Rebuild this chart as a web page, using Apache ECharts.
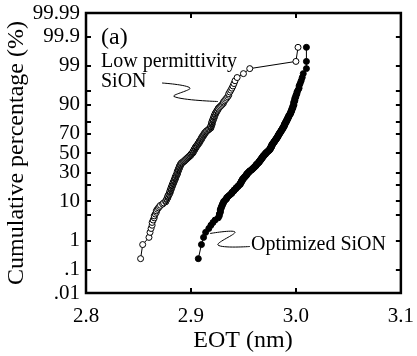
<!DOCTYPE html>
<html>
<head>
<meta charset="utf-8">
<script src="https://cdn.jsdelivr.net/npm/echarts@6.0.0/dist/echarts.min.js"></script>
<style>
  html, body { margin: 0; padding: 0; background: #fff; }
  #chart { width: 417px; height: 356px; }
</style>
</head>
<body>
<div id="chart"></div>
<script>
  // --- Data: sorted EOT values (nm), 200 devices per sample ---
  const lowPermEOT = [
    2.852, 2.854, 2.860, 2.861, 2.862, 2.863, 2.863, 2.864, 2.865, 2.865,
    2.866, 2.867, 2.867, 2.868, 2.869, 2.870, 2.871, 2.873, 2.874, 2.876,
    2.876, 2.877, 2.877, 2.878, 2.878, 2.878, 2.879, 2.879, 2.880, 2.880,
    2.880, 2.880, 2.881, 2.881, 2.881, 2.881, 2.882, 2.882, 2.882, 2.882,
    2.883, 2.883, 2.883, 2.883, 2.884, 2.884, 2.884, 2.884, 2.885, 2.885,
    2.885, 2.885, 2.885, 2.886, 2.886, 2.886, 2.886, 2.887, 2.887, 2.887,
    2.887, 2.887, 2.887, 2.888, 2.888, 2.888, 2.888, 2.888, 2.889, 2.889,
    2.889, 2.889, 2.889, 2.890, 2.890, 2.890, 2.890, 2.891, 2.891, 2.891,
    2.892, 2.893, 2.893, 2.894, 2.894, 2.895, 2.895, 2.896, 2.896, 2.897,
    2.897, 2.898, 2.898, 2.899, 2.899, 2.900, 2.900, 2.900, 2.901, 2.901,
    2.902, 2.902, 2.902, 2.902, 2.903, 2.903, 2.903, 2.903, 2.904, 2.904,
    2.904, 2.904, 2.905, 2.905, 2.905, 2.906, 2.906, 2.906, 2.907, 2.907,
    2.907, 2.908, 2.908, 2.908, 2.908, 2.909, 2.909, 2.909, 2.910, 2.910,
    2.910, 2.910, 2.911, 2.911, 2.911, 2.912, 2.912, 2.912, 2.913, 2.913,
    2.913, 2.914, 2.914, 2.915, 2.915, 2.916, 2.917, 2.917, 2.918, 2.919,
    2.919, 2.919, 2.919, 2.919, 2.920, 2.920, 2.920, 2.920, 2.920, 2.920,
    2.921, 2.921, 2.921, 2.921, 2.922, 2.922, 2.922, 2.922, 2.923, 2.923,
    2.923, 2.924, 2.924, 2.925, 2.925, 2.926, 2.926, 2.927, 2.928, 2.929,
    2.930, 2.931, 2.931, 2.932, 2.933, 2.934, 2.935, 2.936, 2.936, 2.937,
    2.938, 2.939, 2.940, 2.941, 2.942, 2.944, 2.950, 2.956, 3.000, 3.002
  ];

  const optimizedEOT = [
    2.907, 2.910, 2.912, 2.914, 2.917, 2.919, 2.921, 2.923, 2.926, 2.927,
    2.927, 2.928, 2.928, 2.928, 2.929, 2.929, 2.930, 2.930, 2.931, 2.931,
    2.932, 2.933, 2.934, 2.934, 2.935, 2.936, 2.937, 2.938, 2.939, 2.939,
    2.940, 2.941, 2.941, 2.942, 2.943, 2.943, 2.944, 2.945, 2.945, 2.946,
    2.947, 2.947, 2.947, 2.948, 2.948, 2.948, 2.949, 2.949, 2.949, 2.950,
    2.950, 2.951, 2.951, 2.952, 2.952, 2.953, 2.953, 2.953, 2.954, 2.954,
    2.955, 2.955, 2.956, 2.956, 2.957, 2.958, 2.958, 2.959, 2.959, 2.960,
    2.960, 2.961, 2.961, 2.962, 2.962, 2.962, 2.963, 2.963, 2.964, 2.964,
    2.965, 2.965, 2.965, 2.966, 2.966, 2.966, 2.967, 2.967, 2.967, 2.968,
    2.968, 2.968, 2.969, 2.969, 2.969, 2.970, 2.970, 2.971, 2.971, 2.971,
    2.972, 2.972, 2.973, 2.973, 2.974, 2.974, 2.975, 2.975, 2.975, 2.976,
    2.976, 2.976, 2.976, 2.977, 2.977, 2.977, 2.977, 2.977, 2.978, 2.978,
    2.978, 2.979, 2.979, 2.979, 2.980, 2.980, 2.980, 2.981, 2.981, 2.981,
    2.982, 2.982, 2.982, 2.983, 2.983, 2.983, 2.983, 2.984, 2.984, 2.984,
    2.985, 2.985, 2.985, 2.986, 2.986, 2.986, 2.987, 2.987, 2.987, 2.988,
    2.988, 2.988, 2.989, 2.989, 2.989, 2.989, 2.990, 2.990, 2.990, 2.991,
    2.991, 2.991, 2.992, 2.992, 2.992, 2.993, 2.993, 2.993, 2.994, 2.994,
    2.995, 2.995, 2.995, 2.996, 2.996, 2.996, 2.997, 2.997, 2.997, 2.998,
    2.998, 2.998, 2.998, 2.999, 2.999, 2.999, 3.000, 3.000, 3.001, 3.001,
    3.002, 3.003, 3.003, 3.004, 3.005, 3.006, 3.007, 3.010, 3.010, 3.010
  ];

  // --- Axis ticks ---
  const xTicks = [2.8, 2.9, 3.0, 3.1];
  const yTickPct = [0.01, 0.1, 1, 5, 10, 20, 30, 50, 70, 80, 90, 95, 99, 99.9, 99.99];
  const yLabelPct = [0.01, 0.1, 1, 10, 30, 50, 70, 90, 99, 99.9, 99.99];
  const yLabelText = ['.01', '.1', '1', '10', '30', '50', '70', '90', '99', '99.9', '99.99'];

  const FONT = '"Liberation Serif", "Times New Roman", serif';

  // inverse normal CDF (Acklam) for the probability scale
  function probit(p) {
    const a = [-3.969683028665376e+01, 2.209460984245205e+02, -2.759285104469687e+02, 1.383577518672690e+02, -3.066479806614716e+01, 2.506628277459239e+00];
    const b = [-5.447609879822406e+01, 1.615858368580409e+02, -1.556989798598866e+02, 6.680131188771972e+01, -1.328068155288572e+01];
    const c = [-7.784894002430293e-03, -3.223964580411365e-01, -2.400758277161838e+00, -2.549732539343734e+00, 4.374664141464968e+00, 2.938163982698783e+00];
    const d = [7.784695709041462e-03, 3.224671290700398e-01, 2.445134137142996e+00, 3.754408661907416e+00];
    const plow = 0.02425;
    let q, r;
    if (p < plow) {
      q = Math.sqrt(-2 * Math.log(p));
      return (((((c[0] * q + c[1]) * q + c[2]) * q + c[3]) * q + c[4]) * q + c[5]) /
        ((((d[0] * q + d[1]) * q + d[2]) * q + d[3]) * q + 1);
    }
    if (p <= 1 - plow) {
      q = p - 0.5;
      r = q * q;
      return (((((a[0] * r + a[1]) * r + a[2]) * r + a[3]) * r + a[4]) * r + a[5]) * q /
        (((((b[0] * r + b[1]) * r + b[2]) * r + b[3]) * r + b[4]) * r + 1);
    }
    q = Math.sqrt(-2 * Math.log(1 - p));
    return -(((((c[0] * q + c[1]) * q + c[2]) * q + c[3]) * q + c[4]) * q + c[5]) /
      ((((d[0] * q + d[1]) * q + d[2]) * q + d[3]) * q + 1);
  }

  // plotting position (i - 0.5) / n for each sorted value
  function toPoints(values) {
    const n = values.length;
    return values.map((v, i) => [v, probit((i + 0.5) / n)]);
  }

  const yMin = probit(0.0001);
  const yMax = probit(0.9999);
  const tickZ = yTickPct.map(p => probit(p / 100));
  const labelZ = yLabelPct.map(p => probit(p / 100));

  function yLabel(v) {
    for (let i = 0; i < labelZ.length; i++) {
      if (Math.abs(labelZ[i] - v) < 1e-6) return yLabelText[i];
    }
    return '';
  }

  const chart = echarts.init(document.getElementById('chart'), null, { renderer: 'canvas' });

  const tickStyle = { show: true, inside: true, length: 5, lineStyle: { color: '#000', width: 2 } };

  const option = {
    animation: false,
    grid: {
      left: 86, right: 13, top: 13, bottom: 63,
      show: true, borderColor: '#000', borderWidth: 2.5, backgroundColor: 'transparent'
    },
    xAxis: [{
      type: 'value', position: 'bottom',
      min: xTicks[0], max: xTicks[xTicks.length - 1], interval: 0.1,
      splitLine: { show: false },
      axisLine: { show: false, onZero: false },
      axisTick: tickStyle,
      axisLabel: {
        color: '#000', fontFamily: FONT, fontSize: 21, margin: 13,
        formatter: v => v.toFixed(1)
      }
    }, {
      type: 'value', position: 'top',
      min: xTicks[0], max: xTicks[xTicks.length - 1], interval: 0.1,
      splitLine: { show: false },
      axisLine: { show: false, onZero: false },
      axisTick: tickStyle,
      axisLabel: { show: false }
    }],
    yAxis: [{
      type: 'value', position: 'left',
      min: yMin, max: yMax,
      splitLine: { show: false },
      axisLine: { show: false, onZero: false },
      axisTick: Object.assign({}, tickStyle, { customValues: tickZ }),
      axisLabel: {
        customValues: labelZ,
        color: '#000', fontFamily: FONT, fontSize: 21, margin: 6,
        formatter: yLabel
      }
    }, {
      type: 'value', position: 'right',
      min: yMin, max: yMax,
      splitLine: { show: false },
      axisLine: { show: false, onZero: false },
      axisTick: Object.assign({}, tickStyle, { customValues: tickZ }),
      axisLabel: { show: false, customValues: labelZ }
    }],
    series: [{
      name: 'Low permittivity SiON',
      type: 'line',
      data: toPoints(lowPermEOT),
      symbol: 'circle',
      symbolSize: 6,
      lineStyle: { color: '#000', width: 1 },
      itemStyle: { color: '#fff', borderColor: '#000', borderWidth: 1 },
      z: 3
    }, {
      name: 'Optimized SiON',
      type: 'line',
      data: toPoints(optimizedEOT),
      symbol: 'circle',
      symbolSize: 6,
      lineStyle: { color: '#000', width: 1 },
      itemStyle: { color: '#000', borderColor: '#000', borderWidth: 1 },
      z: 4
    }],
    graphic: [
      {
        type: 'text', x: 17, y: 153, rotation: Math.PI / 2,
        style: { text: 'Cumulative percentage (%)', font: '24px ' + FONT, fill: '#000', align: 'center', verticalAlign: 'middle' }
      },
      {
        type: 'text', x: 243, y: 341,
        style: { text: 'EOT (nm)', font: '24px ' + FONT, fill: '#000', align: 'center', verticalAlign: 'middle' }
      },
      {
        type: 'text', x: 101, y: 38,
        style: { text: '(a)', font: '24px ' + FONT, fill: '#000', align: 'left', verticalAlign: 'middle' }
      },
      {
        type: 'text', x: 101, y: 62,
        style: { text: 'Low permittivity', font: '20px ' + FONT, fill: '#000', align: 'left', verticalAlign: 'middle' }
      },
      {
        type: 'text', x: 101, y: 82,
        style: { text: 'SiON', font: '20px ' + FONT, fill: '#000', align: 'left', verticalAlign: 'middle' }
      },
      {
        type: 'text', x: 251, y: 245,
        style: { text: 'Optimized SiON', font: '20px ' + FONT, fill: '#000', align: 'left', verticalAlign: 'middle' }
      },
      {
        type: 'polyline', z: 10,
        shape: { points: [[162, 83], [190, 88], [174, 96.5], [218, 101.5]], smooth: 0.4 },
        style: { stroke: '#000', lineWidth: 1, fill: null }
      },
      {
        type: 'polyline', z: 10,
        shape: { points: [[210, 233.5], [235, 232], [218, 245], [250, 246.5]], smooth: 0.4 },
        style: { stroke: '#000', lineWidth: 1, fill: null }
      }
    ]
  };

  chart.setOption(option);
  window.addEventListener('resize', function () { chart.resize(); });
</script>
</body>
</html>
